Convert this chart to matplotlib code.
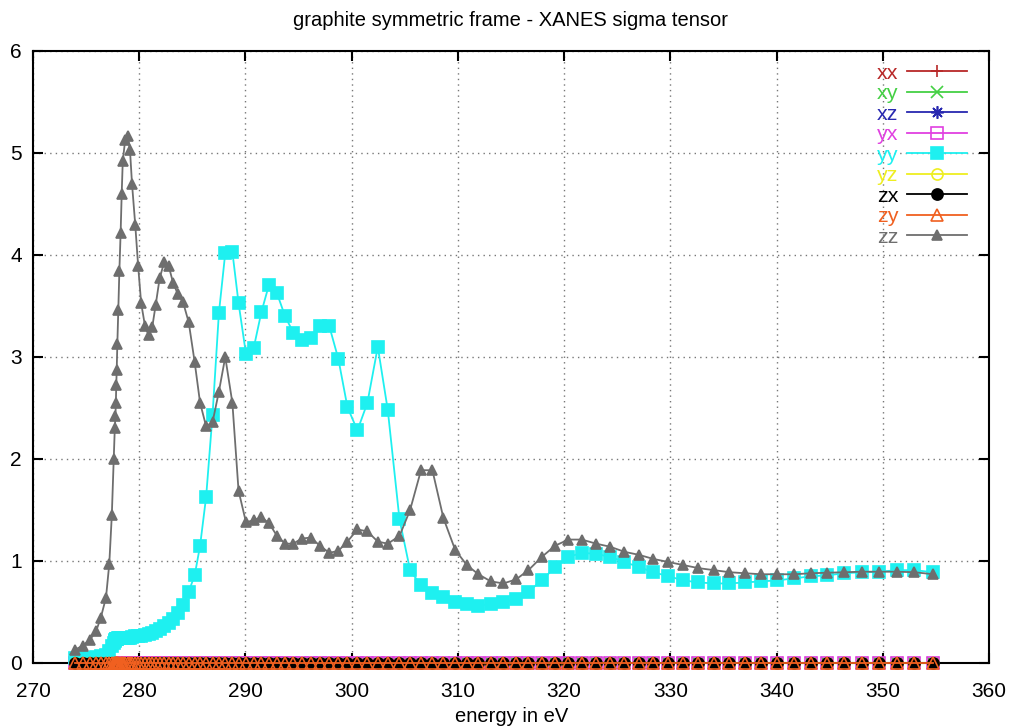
import numpy as np
import matplotlib.pyplot as plt
from matplotlib.lines import Line2D

plt.rcParams['font.family'] = ['Liberation Sans', 'DejaVu Sans']

# energy grid (eV)
energy = [273.95, 274.68, 275.37, 275.93, 276.37, 276.87, 277.18, 277.42, 277.6, 277.7,
          277.76, 277.8, 277.84, 277.88, 277.94, 278.03, 278.13, 278.25, 278.35, 278.45,
          278.68, 278.9, 279.13, 279.32, 279.63, 279.9, 280.18, 280.55, 280.88, 281.22,
          281.55, 281.92, 282.35, 282.78, 283.18, 283.62, 284.12, 284.66, 285.22, 285.73,
          286.3, 286.9, 287.5, 288.1, 288.77, 289.35, 290.05, 290.78, 291.5, 292.22,
          292.95, 293.73, 294.5, 295.3, 296.15, 297.0, 297.9, 298.75, 299.6, 300.54,
          301.48, 302.46, 303.4, 304.5, 305.5, 306.53, 307.6, 308.64, 309.74, 310.84,
          311.93, 313.1, 314.29, 315.48, 316.64, 317.9, 319.15, 320.41, 321.67, 323.01,
          324.33, 325.68, 327.06, 328.41, 329.82, 331.23, 332.65, 334.12, 335.57, 337.04,
          338.55, 340.08, 341.68, 343.23, 344.79, 346.39, 348.03, 349.69, 351.33, 352.98,
          354.77]

sigma_yy = [0.05, 0.05, 0.05, 0.06, 0.07, 0.08, 0.12, 0.17, 0.20, 0.22,
            0.23, 0.235, 0.24, 0.24, 0.24, 0.245, 0.245, 0.245, 0.245, 0.25,
            0.25, 0.25, 0.25, 0.255, 0.26, 0.26, 0.265, 0.27, 0.28, 0.295,
            0.31, 0.33, 0.36, 0.39, 0.43, 0.49, 0.57, 0.70, 0.86, 1.15,
            1.63, 2.43, 3.43, 4.02, 4.03, 3.53, 3.03, 3.09, 3.44, 3.71,
            3.63, 3.40, 3.24, 3.17, 3.19, 3.30, 3.30, 2.98, 2.51, 2.28,
            2.55, 3.10, 2.48, 1.41, 0.91, 0.76, 0.69, 0.65, 0.60, 0.575,
            0.56, 0.58, 0.595, 0.63, 0.70, 0.81, 0.94, 1.04, 1.08, 1.07,
            1.04, 0.99, 0.94, 0.89, 0.85, 0.81, 0.79, 0.78, 0.78, 0.79,
            0.80, 0.81, 0.83, 0.85, 0.86, 0.88, 0.89, 0.895, 0.91, 0.91,
            0.89]

sigma_zz = [0.13, 0.17, 0.23, 0.31, 0.44, 0.64, 0.97, 1.45, 2.00, 2.30,
            2.42, 2.55, 2.73, 2.87, 3.13, 3.46, 3.84, 4.22, 4.60, 4.92,
            5.13, 5.17, 5.03, 4.70, 4.29, 3.89, 3.53, 3.30, 3.22, 3.29,
            3.51, 3.77, 3.93, 3.89, 3.73, 3.62, 3.54, 3.34, 2.95, 2.55,
            2.32, 2.36, 2.66, 3.00, 2.55, 1.69, 1.38, 1.40, 1.43, 1.37,
            1.25, 1.17, 1.17, 1.22, 1.23, 1.15, 1.08, 1.10, 1.19, 1.31,
            1.29, 1.19, 1.17, 1.245, 1.50, 1.89, 1.89, 1.42, 1.11, 0.96,
            0.87, 0.80, 0.78, 0.82, 0.91, 1.04, 1.15, 1.21, 1.21, 1.17,
            1.14, 1.09, 1.06, 1.02, 0.99, 0.96, 0.93, 0.91, 0.89, 0.88,
            0.87, 0.87, 0.87, 0.88, 0.885, 0.89, 0.895, 0.895, 0.895, 0.89,
            0.87]

# off-diagonal and xx components are zero everywhere in the picture
sigma_zero = np.zeros(len(energy))

components = ['xx', 'xy', 'xz', 'yx', 'yy', 'yz', 'zx', 'zy', 'zz']
colors = ['#b82828', '#44d044', '#2828b0', '#e040e0', '#1ef0f0',
          '#eeee20', '#000000', '#f06020', '#6e6e6e']
markers = ['+', 'x', (8, 2, 0), 's', 's', 'o', 'o', '^', '^']
filled = [True, True, True, False, True, False, True, False, True]
msizes = [9, 8, 9, 8, 8.5, 8, 8, 8, 7]

values = {c: sigma_zero for c in components}
values['yy'] = sigma_yy
values['zz'] = sigma_zz

fig = plt.figure(figsize=(10.11, 7.27), dpi=100)
ax = fig.add_axes([33 / 1011, 1 - 663 / 727, (989 - 33) / 1011, (663 - 51) / 727])

handles = []
for c, col, m, f, ms in zip(components, colors, markers, filled, msizes):
    fc = col if f else 'none'
    ax.plot(energy, values[c], color=col, lw=1.3, marker=m, ms=ms,
            markerfacecolor=fc, markeredgecolor=col, markeredgewidth=1.2,
            clip_on=False, zorder=3)
    handles.append(Line2D([0], [0], color=col, lw=1.3, marker=m, ms=ms,
                          markerfacecolor=fc, markeredgecolor=col,
                          markeredgewidth=1.2, label=c))

ax.set_xlim(270, 360)
ax.set_ylim(0, 6)
ax.set_xticks(np.arange(270, 361, 10))
ax.set_yticks(np.arange(0, 7, 1))
ax.tick_params(direction='in', length=7, width=1.5, top=True, right=True,
               labelsize=15)
ax.tick_params(axis='x', pad=14)
ax.tick_params(axis='y', pad=8)
for s in ax.spines.values():
    s.set_linewidth(1.5)
ax.grid(True, linestyle=(0, (1, 3)), color='#777777', linewidth=1.0)

leg = ax.legend(handles=handles, loc='upper right', bbox_to_anchor=(0.99, 1.0),
                frameon=False, markerfirst=False, fontsize=15.4, handlelength=2.8,
                labelspacing=0.07, handletextpad=0.4, borderaxespad=0.2)
for t, col in zip(leg.get_texts(), colors):
    t.set_color(col)

fig.text(0.505, 1 - 20 / 727, 'graphite symmetric frame - XANES sigma tensor',
         ha='center', va='center', fontsize=14.5)
fig.text(0.506, 1 - 716 / 727, 'energy in eV', ha='center', va='center', fontsize=14.5)

fig.savefig('out.png', dpi=100)
